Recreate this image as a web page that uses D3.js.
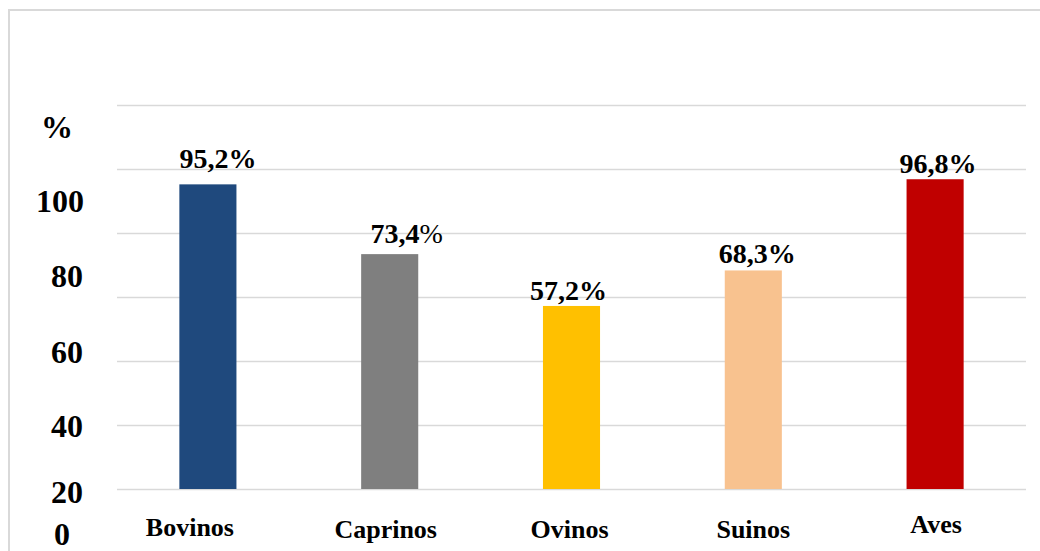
<!DOCTYPE html>
<html>
<head>
<meta charset="utf-8">
<script src="https://cdn.jsdelivr.net/npm/d3@7"></script>
<style>
  html, body { margin: 0; padding: 0; background: #ffffff; }
  svg { display: block; }
</style>
</head>
<body>
<svg id="chart" width="1040" height="551"></svg>
<script>
// Categories and their percentages
const categories = ["Bovinos", "Caprinos", "Ovinos", "Suinos", "Aves"];
const values = [95.2, 73.4, 57.2, 68.3, 96.8];
const colors = ["#1f497d", "#7f7f7f", "#ffc000", "#f8c28f", "#c00000"];
const valueLabels = ["95,2", "73,4", "57,2", "68,3", "96,8"];
const gridTicks = [0, 20, 40, 60, 80, 100, 120];
const axisLabels = ["%", "100", "80", "60", "40", "20", "0"];

const svg = d3.select("#chart");
const FONT = "\"Liberation Serif\"";

// Plot geometry
const plot = { left: 117, right: 1026, top: 105, bottom: 489 };

const x = d3.scaleBand()
  .domain(categories)
  .range([plot.left, plot.right])
  .paddingInner(0.686)
  .paddingOuter(0.343);

const y = d3.scaleLinear()
  .domain([0, 120])
  .range([plot.bottom, plot.top]);

// Outer frame (left and top edges)
svg.append("path")
  .attr("d", "M9,551 V10 H1040")
  .attr("fill", "none")
  .attr("stroke", "#d9d9d9")
  .attr("stroke-width", 2);

// Horizontal gridlines
svg.append("g")
  .selectAll("line")
  .data(gridTicks)
  .join("line")
  .attr("x1", plot.left)
  .attr("x2", plot.right)
  .attr("y1", d => Math.round(y(d)) + 0.5)
  .attr("y2", d => Math.round(y(d)) + 0.5)
  .attr("stroke", "#d9d9d9")
  .attr("stroke-width", 1.6);

// Bars
svg.append("g")
  .selectAll("rect")
  .data(categories)
  .join("rect")
  .attr("x", d => x(d))
  .attr("width", x.bandwidth())
  .attr("y", (d, i) => y(values[i]))
  .attr("height", (d, i) => y(0) - y(values[i]))
  .attr("fill", (d, i) => colors[i]);

// Value labels above bars (small per-label nudges)
const labelNudge = [[10, -16], [17, -11], [-3, -6], [4, -7], [3, -6]];
const vl = svg.append("g")
  .selectAll("text")
  .data(categories)
  .join("text")
  .attr("x", (d, i) => x(d) + x.bandwidth() / 2 + labelNudge[i][0])
  .attr("y", (d, i) => y(values[i]) + labelNudge[i][1])
  .attr("text-anchor", "middle")
  .attr("font-family", FONT)
  .attr("font-weight", "bold")
  .attr("font-size", 28)
  .attr("fill", "#000");
vl.append("tspan").text((d, i) => valueLabels[i]);
vl.append("tspan")
  .attr("font-weight", (d, i) => i === 1 ? "normal" : "bold")
  .text("%");

// Category labels under bars
const catNudge = [[-18, 536], [-4, 538], [-2, 538], [0, 538], [1, 533]];
svg.append("g")
  .selectAll("text")
  .data(categories)
  .join("text")
  .attr("x", (d, i) => x(d) + x.bandwidth() / 2 + catNudge[i][0])
  .attr("y", (d, i) => catNudge[i][1])
  .attr("text-anchor", "middle")
  .attr("font-family", FONT)
  .attr("font-weight", "bold")
  .attr("font-size", 26)
  .attr("fill", "#000")
  .text(d => d);

// Vertical axis labels, stacked down the left side
const axisLayout = [
  { x: 57, y: 138, anchor: "middle" },
  { x: 84, y: 212, anchor: "end" },
  { x: 83, y: 287, anchor: "end" },
  { x: 83, y: 363, anchor: "end" },
  { x: 83, y: 437, anchor: "end" },
  { x: 83, y: 503, anchor: "end" },
  { x: 62, y: 545, anchor: "middle" }
];
svg.append("g")
  .selectAll("text")
  .data(axisLabels)
  .join("text")
  .attr("x", (d, i) => axisLayout[i].x)
  .attr("y", (d, i) => axisLayout[i].y)
  .attr("text-anchor", (d, i) => axisLayout[i].anchor)
  .attr("font-family", FONT)
  .attr("font-weight", "bold")
  .attr("font-size", 32)
  .attr("fill", "#000")
  .text(d => d);
</script>
</body>
</html>
